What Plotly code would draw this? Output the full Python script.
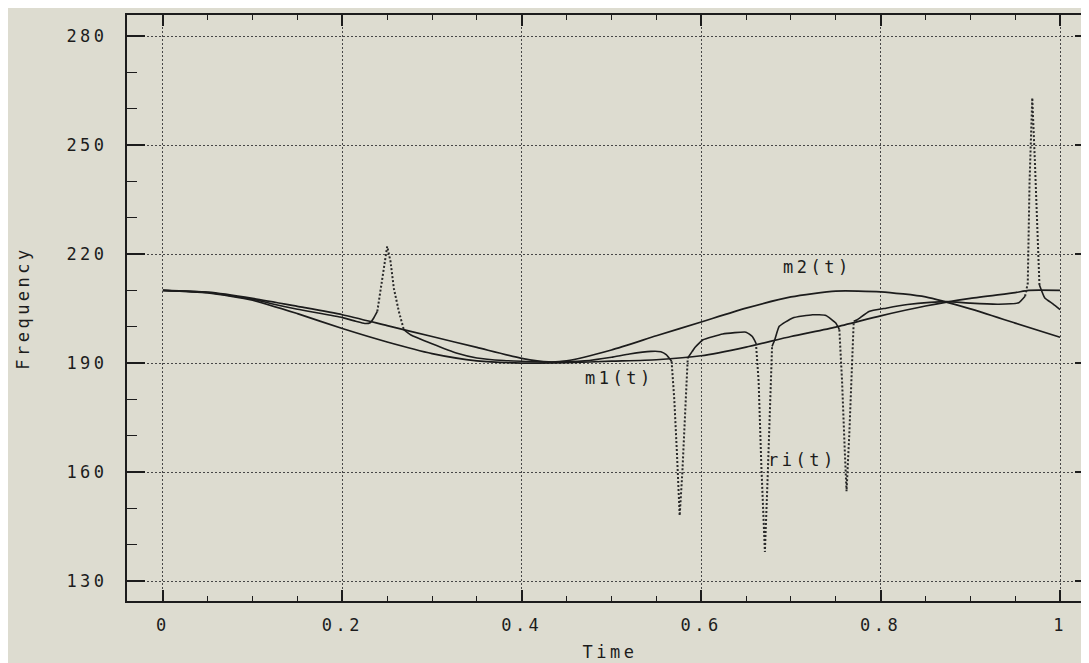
import plotly.graph_objects as go

# ---------------- data ----------------
m1_t = [0, 0.05, 0.1, 0.15, 0.2, 0.25, 0.3, 0.35, 0.4, 0.45, 0.5, 0.55, 0.6,
        0.65, 0.7, 0.75, 0.8, 0.85, 0.9, 0.95, 0.965, 1.0]
m1_f = [210, 209.3, 207.3, 203.6, 199.5, 195.8, 192.6, 190.6, 190.0, 190.1,
        190.5, 190.9, 192.0, 194.4, 197.3, 199.9, 203.0, 205.7, 207.8, 209.4,
        210, 210]

m2_t = [0, 0.05, 0.1, 0.15, 0.2, 0.25, 0.3, 0.35, 0.4, 0.43, 0.45, 0.5, 0.55,
        0.6, 0.65, 0.7, 0.75, 0.8, 0.85, 0.9, 0.95, 1.0]
m2_f = [210, 209.5, 207.8, 205.6, 203.3, 200.3, 197.3, 194.3, 191.3, 190.3,
        190.6, 193.6, 197.5, 201.3, 205.1, 208.2, 209.8, 209.6, 208.2, 204.9,
        201.0, 197.1]

ri_t = [0, 0.05, 0.1, 0.12, 0.15, 0.2, 0.215, 0.225, 0.231, 0.235, 0.239,
        0.2444, 0.248, 0.25, 0.2537, 0.2574, 0.263, 0.2685, 0.276, 0.3, 0.328,
        0.35, 0.38, 0.4, 0.43, 0.47, 0.5, 0.52, 0.544, 0.555, 0.561, 0.567,
        0.570, 0.573, 0.576, 0.579, 0.582, 0.585, 0.59, 0.593, 0.602, 0.624,
        0.65, 0.657, 0.661, 0.664, 0.667, 0.671, 0.674, 0.677, 0.679, 0.682,
        0.687, 0.702, 0.724, 0.739, 0.75, 0.754, 0.757, 0.760, 0.762, 0.765,
        0.768, 0.770, 0.774, 0.787, 0.806, 0.83, 0.855, 0.874, 0.9, 0.93,
        0.945, 0.954, 0.961, 0.964, 0.966, 0.969, 0.972, 0.975, 0.977, 0.983,
        0.992, 1.0]
ri_f = [210, 209.4, 207.6, 206.4, 204.8, 202.5, 201.5, 200.9, 201.1, 202.4,
        204.2, 213.4, 219.8, 222.1, 218.0, 210.6, 204.2, 199.2, 197.8, 195.3,
        192.7, 191.4, 190.7, 190.5, 190.3, 190.6, 191.6, 192.5, 193.2, 193.1,
        192.3, 190.5, 180, 165, 148, 160, 178, 191.4, 193.2, 194.3, 196.4,
        198.0, 198.5, 197.3, 195.5, 185, 162, 138, 158, 183, 194.6, 196.4,
        200.1, 202.4, 203.3, 203.1, 201.0, 199.2, 185, 166, 154.7, 170, 190,
        201.5, 201.9, 204.2, 205.1, 206.1, 206.7, 206.9, 206.5, 206.2, 206.3,
        206.6, 208.4, 212, 240, 263, 245, 226, 211.5, 207.9, 206.3, 204.7]

x_ticks = [0, 0.2, 0.4, 0.6, 0.8, 1.0]
x_tick_labels = ["0", "0.2", "0.4", "0.6", "0.8", "1"]
y_ticks = [130, 160, 190, 220, 250, 280]
y_tick_labels = ["130", "160", "190", "220", "250", "280"]

# ---------------- styling ----------------
BG = "#dddcd0"
INK = "#1c1c1c"
GRID = "#474747"
FONT = "DejaVu Sans Mono"


def spaced(s, sp=3.5):
    return f"<span style='letter-spacing:{sp}px'>{s}</span>"


# split ri into runs: slow parts (solid) and steep parts (dotted), by slope
def runs(ts, fs, steep_limit=800):
    solid_x, solid_y, dot_x, dot_y = [], [], [], []
    prev = None
    for i in range(len(ts) - 1):
        steep = abs((fs[i + 1] - fs[i]) / (ts[i + 1] - ts[i])) > steep_limit
        tx, ty = (dot_x, dot_y) if steep else (solid_x, solid_y)
        if prev is None or prev != steep:
            if tx:
                tx.append(None)
                ty.append(None)
            tx.append(ts[i])
            ty.append(fs[i])
        tx.append(ts[i + 1])
        ty.append(fs[i + 1])
        prev = steep
    return solid_x, solid_y, dot_x, dot_y


solid_x, solid_y, dot_x, dot_y = runs(ri_t, ri_f)

fig = go.Figure()
fig.add_trace(go.Scatter(x=m1_t, y=m1_f, mode="lines", name="m1(t)",
                         line=dict(color=INK, width=1.7, shape="spline", smoothing=0.6)))
fig.add_trace(go.Scatter(x=m2_t, y=m2_f, mode="lines", name="m2(t)",
                         line=dict(color=INK, width=1.7, shape="spline", smoothing=0.6)))
fig.add_trace(go.Scatter(x=solid_x, y=solid_y, mode="lines", name="ri(t)",
                         connectgaps=False,
                         line=dict(color=INK, width=1.6, shape="spline", smoothing=0.4)))
fig.add_trace(go.Scatter(x=dot_x, y=dot_y, mode="lines", name="ri(t) steep",
                         connectgaps=False,
                         line=dict(color="#2a2a2a", width=2, dash="2px,2px")))

fig.add_annotation(x=0.73, y=216.4, text=spaced("m2(t)"), showarrow=False,
                   font=dict(family=FONT, size=17, color=INK))
fig.add_annotation(x=0.509, y=186.0, text=spaced("m1(t)"), showarrow=False,
                   font=dict(family=FONT, size=17, color=INK))
fig.add_annotation(x=0.713, y=163.4, text=spaced("ri(t)"), showarrow=False,
                   font=dict(family=FONT, size=17, color=INK))

axis_common = dict(
    showline=True, linecolor=INK, linewidth=2, mirror="allticks",
    ticks="inside", tickcolor=INK, tickwidth=1.6,
    showgrid=True, gridcolor=GRID, gridwidth=1.3, griddash="2px,2px",
    zeroline=False,
    tickfont=dict(family=FONT, size=17, color=INK),
)

fig.update_xaxes(
    **axis_common, range=[-0.04, 1.0367], tickmode="array",
    tickvals=x_ticks, ticktext=[spaced(s) for s in x_tick_labels], ticklen=11,
    ticklabelstandoff=8,
    minor=dict(dtick=0.05, ticklen=5, ticks="inside", tickcolor=INK, tickwidth=1.4, showgrid=False),
    title=dict(text=spaced("Time"), font=dict(family=FONT, size=17, color=INK), standoff=12),
)
fig.update_yaxes(
    **axis_common, range=[124.5, 285.8], tickmode="array",
    tickvals=y_ticks, ticktext=[spaced(s) for s in y_tick_labels], ticklen=18,
    ticklabelstandoff=14,
    minor=dict(dtick=10, ticklen=10, ticks="inside", tickcolor=INK, tickwidth=1.4, showgrid=False),
    title=dict(text=spaced("Frequency"), font=dict(family=FONT, size=17, color=INK), standoff=32),
)

fig.update_layout(
    width=1089, height=663, autosize=False,
    margin=dict(l=119, r=2, t=7, b=70),
    paper_bgcolor=BG, plot_bgcolor=BG,
    showlegend=False,
)

fig.write_html("out.html")
